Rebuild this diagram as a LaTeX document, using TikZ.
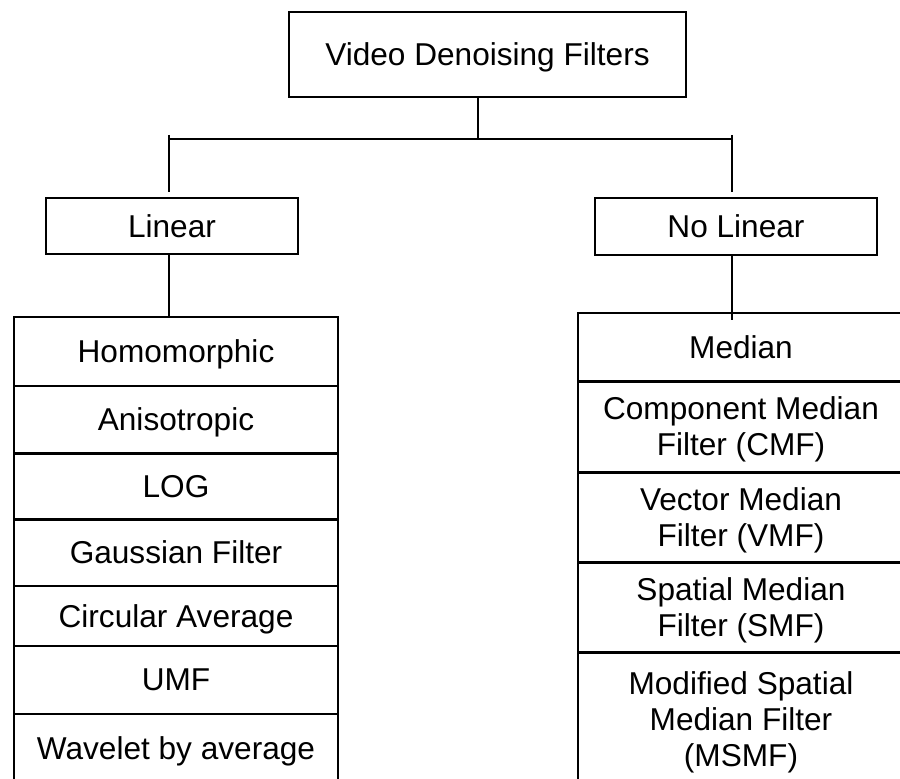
\documentclass[tikz,border=0pt]{standalone}
\usepackage{fontspec}
\setmainfont{Liberation Sans}
\usepackage{tikz}

\begin{document}
\begin{tikzpicture}[x=0.5pt,y=-0.5pt,
  box/.style={draw,line width=0.8pt,inner sep=0pt,align=center,text depth=0pt,
    font=\fontsize{15.8}{18}\selectfont},
  lcell/.style={box,minimum width=162pt},
  rcell/.style={box,minimum width=163pt},
  wire/.style={line width=0.8pt},
  sep/.style={line width=1.4pt}]
\clip (0,0) rectangle (900,779);

% heads
\node[box,minimum width=198.5pt,minimum height=42.5pt] (top) at (487.5,54.5) {Video Denoising Filters};
\node[box,minimum width=126pt,minimum height=28pt] (lin) at (172,226) {Linear};
\node[box,minimum width=141pt,minimum height=28.5pt] (nolin) at (736,226.5) {No Linear};

% linear column
\node[lcell,minimum height=34.5pt] (h1) at (176,351.5) {Homomorphic};
\node[lcell,minimum height=33.5pt] (h2) at (176,419.5) {Anisotropic};
\node[lcell,minimum height=33pt] (h3) at (176,486) {LOG};
\node[lcell,minimum height=33.5pt] (h4) at (176,552.5) {Gaussian Filter};
\node[lcell,minimum height=30pt] (h5) at (176,616) {Circular Average};
\node[lcell,minimum height=34pt] (h6) at (176,680) {UMF};
\node[lcell,minimum height=34pt] (h7) at (176,748) {Wavelet by average};

% non linear column
\node[rcell,minimum height=34pt] (m1) at (741,347) {Median};
\node[rcell,minimum height=45.5pt] (m2) at (741,426.5) {Component Median\\Filter (CMF)};
\node[rcell,minimum height=45pt] (m3) at (741,517) {Vector Median\\Filter (VMF)};
\node[rcell,minimum height=45pt] (m4) at (741,607) {Spatial Median\\Filter (SMF)};
\node[rcell,minimum height=67pt] (m5) at (741,719) {Modified Spatial\\Median Filter\\(MSMF)};

% heavier rules
\draw[sep] (h2.south west) -- (h2.south east);
\draw[sep] (h3.south west) -- (h3.south east);
\foreach \c in {m1,m2,m3,m4}
  \draw[sep] (\c.south west) -- (\c.south east);

% tree
\coordinate (barM) at (478,139);
\coordinate (barL) at (169,139);
\coordinate (barR) at (732,139);
\coordinate (tipL) at (169,135);
\coordinate (tipR) at (732,135);
\coordinate (dropL) at (169,192);
\coordinate (dropR) at (732,192);
\draw[wire] (top.south -| barM) -- (barM);
\draw[wire] (barL) -- (barR);
\draw[wire] (tipL) -- (dropL);
\draw[wire] (tipR) -- (dropR);
\draw[wire] (lin.south -| dropL) -- (h1.north -| dropL);
\draw[wire] (nolin.south -| dropR) -- ([yshift=-4pt]m1.north -| dropR);
\end{tikzpicture}
\end{document}
